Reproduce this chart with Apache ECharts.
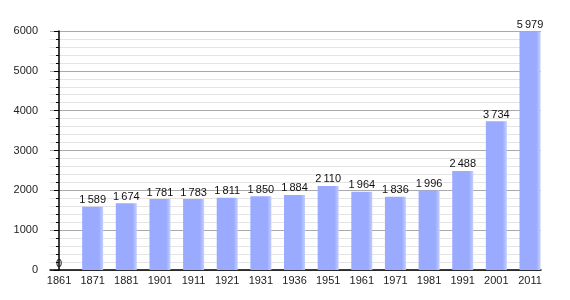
<!DOCTYPE html>
<html><head><meta charset="utf-8">
<script src="https://cdn.jsdelivr.net/npm/echarts@6/dist/echarts.min.js"></script>
<style>html,body{margin:0;padding:0;background:#fff}#c{width:570px;height:300px}</style>
</head><body><div id="c"></div>
<script>
const years = ['1861','1871','1881','1901','1911','1921','1931','1936','1951','1961','1971','1981','1991','2001','2011'];
const population = [0,1589,1674,1781,1783,1811,1850,1884,2110,1964,1836,1996,2488,3734,5979];
const yTicks = [0,1000,2000,3000,4000,5000,6000];

const fmt = v => String(v).replace(/\B(?=(\d{3})+(?!\d))/g, '\u2009');
const idx = years.map((_, i) => i);
const font = 'Liberation Sans, Arial, sans-serif';
const chart = echarts.init(document.getElementById('c'), null, {renderer:'canvas'});
chart.setOption({
  animation:false,
  backgroundColor:'#fff',
  grid:{left:50,right:29,top:31,bottom:30,containLabel:false},
  xAxis:{type:'value',min:-0.268,max:14.327,
    splitLine:{show:false},
    axisLine:{show:true,onZero:false,lineStyle:{color:'#000',width:1.5}},
    axisTick:{show:false},
    axisLabel:{customValues:idx,color:'#222',fontFamily:font,fontSize:11,margin:5,
      formatter:v=>years[Math.round(v)]}},
  yAxis:{type:'value',min:yTicks[0],max:yTicks[yTicks.length-1],interval:1000,
    axisLine:{show:true,lineStyle:{color:'#000',width:1.5}},
    axisTick:{show:true,inside:false,length:5,lineStyle:{color:'#000'}},
    minorTick:{show:true,splitNumber:5,length:3,lineStyle:{color:'#000'}},
    splitLine:{lineStyle:{color:'#aaaaaa'}},
    minorSplitLine:{show:true,lineStyle:{color:'#e4e4e4'}},
    axisLabel:{color:'#222',fontFamily:font,fontSize:11,margin:12,formatter:v=>String(v)}},
  series:[{type:'bar',data:population.map((v,i)=>[i,v]),barWidth:21,
    itemStyle:{color:new echarts.graphic.LinearGradient(0,0,1,0,[
      {offset:0,color:'#9aabff'},{offset:0.8,color:'#9aabff'},{offset:1,color:'#c4cfff'}])},
    label:{show:true,position:'top',distance:1,color:'#111',fontFamily:font,fontSize:11,formatter:p=>fmt(p.value[1])}}]
});
</script></body></html>
